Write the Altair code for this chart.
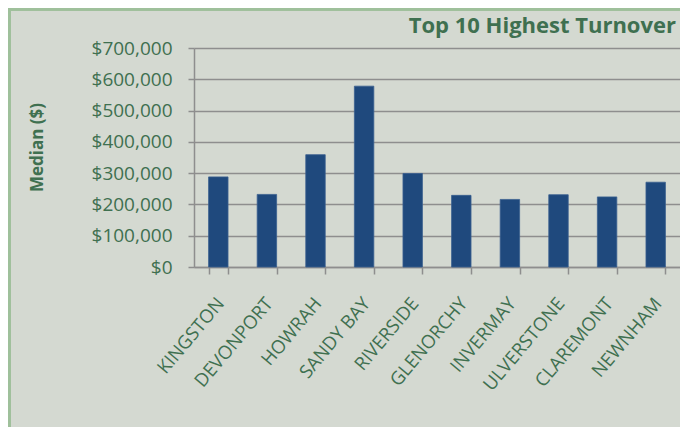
import altair as alt
import pandas as pd

suburbs = ["KINGSTON", "DEVONPORT", "HOWRAH", "SANDY BAY", "RIVERSIDE",
           "GLENORCHY", "INVERMAY", "ULVERSTONE", "CLAREMONT", "NEWNHAM"]
medians = [288000, 232000, 359000, 578000, 299000,
           229000, 216000, 231000, 224000, 271000]
y_ticks = [0, 100000, 200000, 300000, 400000, 500000, 600000, 700000]

df = pd.DataFrame({"suburb": suburbs, "median": medians})

FONT = "Open Sans"
GREEN = "#3f7050"
GRID = "#8e8e8e"
BG = "#d4d9d1"
BORDER = "#9fc09b"

bars = alt.Chart(df).mark_bar(color="#1f497d", stroke="#3a5f8f", strokeWidth=0.8).encode(
    x=alt.X("suburb:N", sort=suburbs,
            scale=alt.Scale(paddingInner=0.6, paddingOuter=0.3),
            axis=alt.Axis(title=None, labelAngle=-50, labelFont=FONT, labelFontSize=18.5,
                          labelColor=GREEN, tickBand="extent", tickSize=7,
                          tickColor=GRID, tickWidth=1.5, domainColor=GRID,
                          domainWidth=1.5, labelPadding=20, labelOffset=-5,
                          labelAlign="right", labelBaseline="top", grid=False)),
    y=alt.Y("median:Q", scale=alt.Scale(domain=[0, 700000], nice=False),
            axis=alt.Axis(title="Median ($)", values=y_ticks, format="$,.0f",
                          labelFont=FONT, labelFontSize=19, labelColor=GREEN,
                          labelPadding=16, tickSize=6, tickColor=GRID, tickWidth=1.5,
                          domainColor=GRID, domainWidth=1.5, gridColor=GRID,
                          gridWidth=1.5, titleFont=FONT, titleFontSize=17,
                          titleFontWeight="bold", titleColor=GREEN, titleAngle=270,
                          titleX=-157, titleY=99, titleAlign="center",
                          titleBaseline="middle")),
)

left_border = alt.Chart(df).mark_rule(color=BORDER, strokeWidth=3).encode(
    x=alt.value(-185), y=alt.value(-39), y2=alt.value(400))
top_border = alt.Chart(df).mark_rule(color=BORDER, strokeWidth=3).encode(
    x=alt.value(-186), x2=alt.value(600), y=alt.value(-39))

chart = alt.layer(bars, left_border, top_border).properties(
    width=486, height=219,
    title=alt.TitleParams("Top 10 Highest Turnover", anchor="end", frame="group",
                          font=FONT, fontSize=22, fontWeight="bold", color=GREEN,
                          baseline="alphabetic", offset=-47, dx=-4),
    autosize=alt.AutoSizeParams(type="none"),
    padding={"left": 186, "top": 40, "right": 0, "bottom": 160},
    background=BG,
).configure_view(stroke=None)

chart.save("out.html", embed_options={"renderer": "svg", "actions": False})
